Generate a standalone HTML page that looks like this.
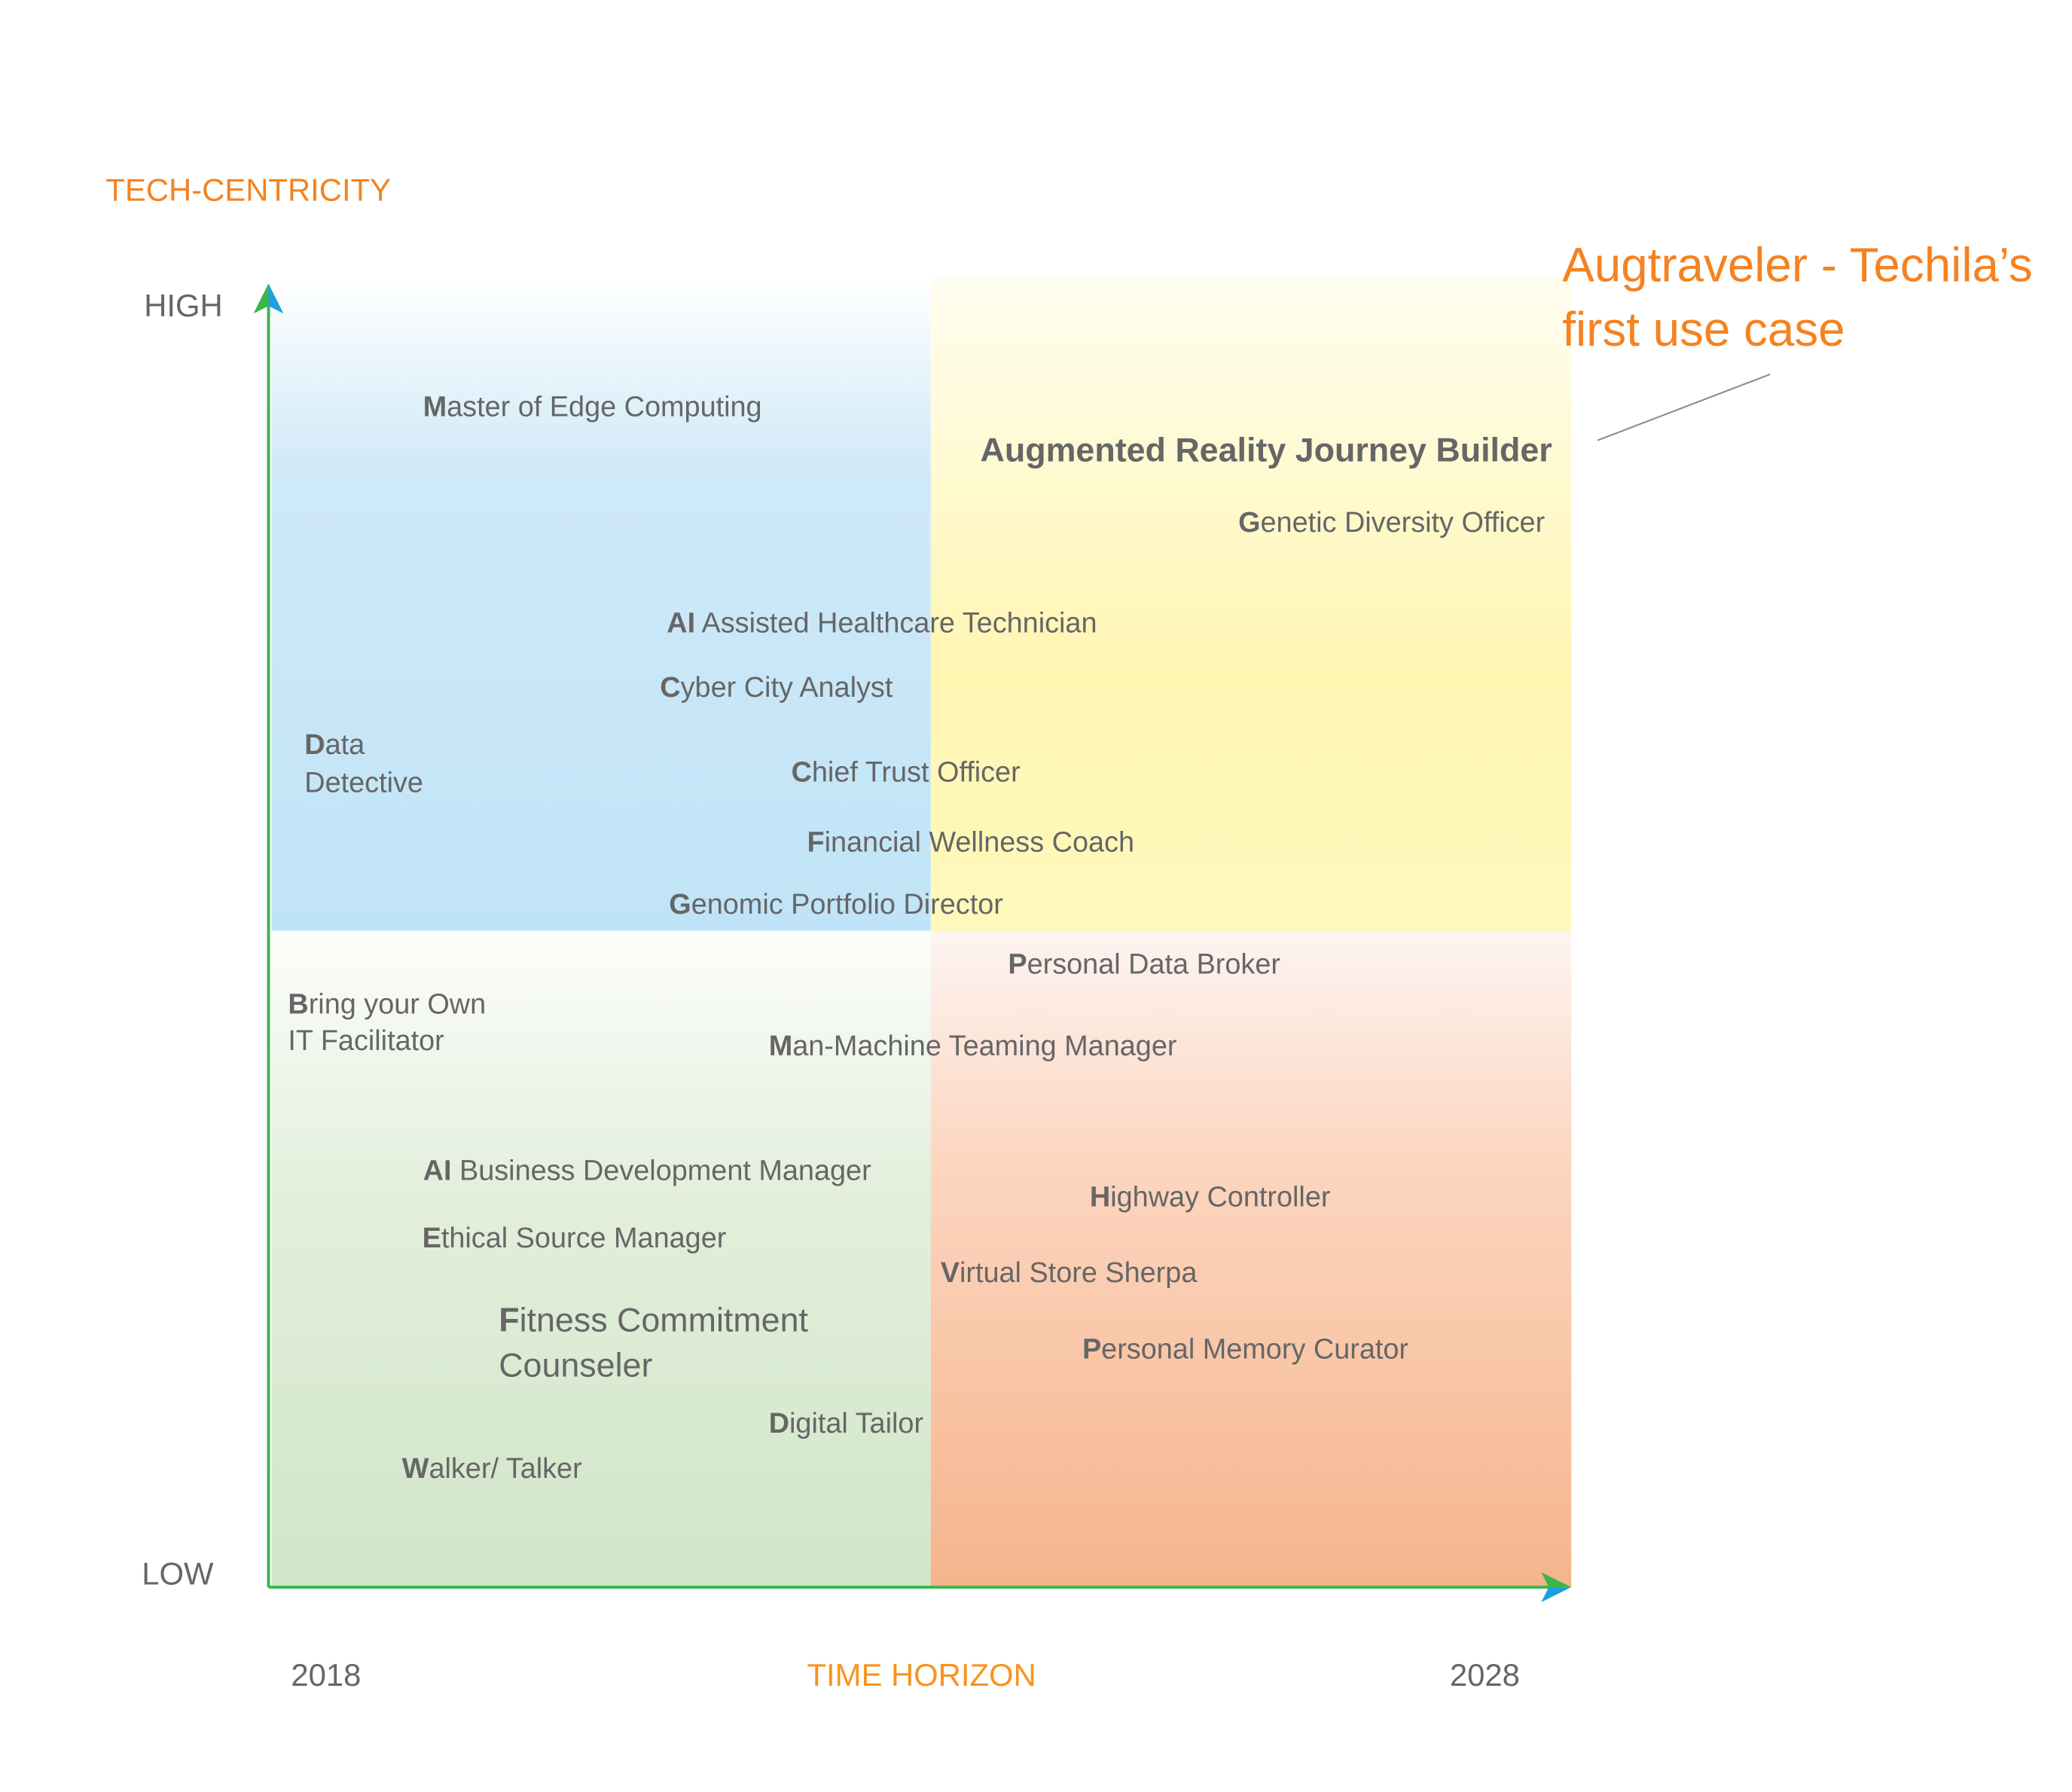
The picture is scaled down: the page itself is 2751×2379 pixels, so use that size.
<!DOCTYPE html>
<html><head><meta charset="utf-8"><style>
html,body{margin:0;padding:0;background:#fff}
svg{display:block}
text{font-family:"Liberation Sans",sans-serif;fill:#666;dominant-baseline:central}
.l{font-size:38px}
.b{font-weight:bold}
</style></head><body>
<svg width="2751" height="2379" viewBox="0 0 2751 2379" xmlns="http://www.w3.org/2000/svg">
<defs>
<linearGradient id="gb" x1="0" y1="0" x2="0" y2="1"><stop offset="0" stop-color="#fff"/><stop offset="0.3" stop-color="#cfe9f8"/><stop offset="1" stop-color="#c0e4f7"/></linearGradient>
<linearGradient id="gy" x1="0" y1="0" x2="0" y2="1"><stop offset="0" stop-color="#fffdf0"/><stop offset="0.6" stop-color="#fff6b2"/><stop offset="1" stop-color="#fff8bc"/></linearGradient>
<linearGradient id="gg" x1="0" y1="0" x2="0" y2="1"><stop offset="0" stop-color="#fcfdfb"/><stop offset="0.4" stop-color="#e3efdc"/><stop offset="1" stop-color="#d0e6c8"/></linearGradient>
<linearGradient id="go" x1="0" y1="0" x2="0" y2="1"><stop offset="0" stop-color="#fdf4f1"/><stop offset="0.35" stop-color="#fcd6c0"/><stop offset="1" stop-color="#f5b48c"/></linearGradient>
</defs>
<g transform="scale(0.9958)">
<rect x="362" y="370" width="879" height="871" fill="url(#gb)"/>
<rect x="1241" y="370" width="854" height="871" fill="url(#gy)"/>
<rect x="362" y="1241" width="879" height="875" fill="url(#gg)"/>
<rect x="1241" y="1241" width="854" height="875" fill="url(#go)"/>
<line x1="358" y1="2116" x2="358" y2="395" stroke="#3cb54a" stroke-width="4"/>
<polygon points="358,378 338,418 358,408" fill="#3cb54a"/><polygon points="358,378 378,418 358,408" fill="#1ea0e0"/>
<line x1="358" y1="2116" x2="2080" y2="2116" stroke="#3cb54a" stroke-width="4"/>
<polygon points="2095,2116 2055,2096 2065,2116" fill="#3cb54a"/><polygon points="2095,2116 2055,2136 2065,2116" fill="#1ea0e0"/>
<text x="141" y="253" style="font-size:42px;fill:#f58220">TECH-CENTRICITY</text>
<text x="192" y="407" style="font-size:42px">HIGH</text>
<text x="189" y="2098" style="font-size:42px">LOW</text>
<text x="388" y="2233" style="font-size:42px">2018</text>
<text x="1076" y="2233" style="font-size:42px;fill:#f7941d">TIME HORIZON</text>
<text x="1933" y="2233" style="font-size:42px">2028</text>
<text x="2083" y="353" style="font-size:64px;fill:#f58220">Augtraveler - Techila’s</text>
<text x="2083" y="439" style="font-size:64px;fill:#f58220">first use case</text>
<line x1="2360" y1="499" x2="2130" y2="587" stroke="#888" stroke-width="2"/>
<text x="1307" y="600" class="b" style="font-size:45px">Augmented Reality Journey Builder</text>
<g class="l">
<text x="564" y="543"><tspan class="b">M</tspan>aster of Edge Computing</text>
<text x="1651" y="697"><tspan class="b">G</tspan>enetic Diversity Officer</text>
<text x="889" y="831"><tspan class="b">AI</tspan> Assisted Healthcare Technician</text>
<text x="880" y="917"><tspan class="b">C</tspan>yber City Analyst</text>
<text x="406" y="993"><tspan class="b">D</tspan>ata</text>
<text x="406" y="1044">Detective</text>
<text x="1055" y="1030"><tspan class="b">C</tspan>hief Trust Officer</text>
<text x="1076" y="1123"><tspan class="b">F</tspan>inancial Wellness Coach</text>
<text x="892" y="1206"><tspan class="b">G</tspan>enomic Portfolio Director</text>
<text x="1344" y="1286"><tspan class="b">P</tspan>ersonal Data Broker</text>
<text x="384" y="1339"><tspan class="b">B</tspan>ring your Own</text>
<text x="384" y="1388">IT Facilitator</text>
<text x="1025" y="1395"><tspan class="b">M</tspan>an-Machine Teaming Manager</text>
<text x="564" y="1561"><tspan class="b">AI</tspan> Business Development Manager</text>
<text x="1453" y="1596"><tspan class="b">H</tspan>ighway Controller</text>
<text x="563" y="1651"><tspan class="b">E</tspan>thical Source Manager</text>
<text x="1254" y="1697"><tspan class="b">V</tspan>irtual Store Sherpa</text>
<text x="1443" y="1799"><tspan class="b">P</tspan>ersonal Memory Curator</text>
<text x="1025" y="1898"><tspan class="b">D</tspan>igital Tailor</text>
<text x="536" y="1958"><tspan class="b">W</tspan>alker/ Talker</text>
</g>
<text x="665" y="1760" style="font-size:45px"><tspan class="b">F</tspan>itness Commitment</text>
<text x="665" y="1820" style="font-size:45px">Counseler</text>
</g>
</svg>
</body></html>
